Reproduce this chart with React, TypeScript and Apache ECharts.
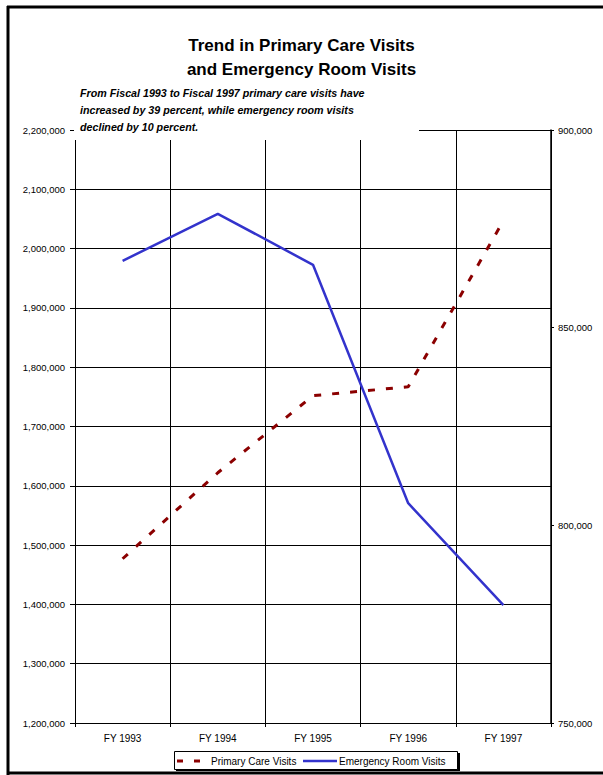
import React, { useEffect, useRef } from "react";
import * as echarts from "echarts";

const categories = ["FY 1993", "FY 1994", "FY 1995", "FY 1996", "FY 1997"];
const primaryCareVisits = [1477000, 1622000, 1752000, 1767000, 2047000];
const emergencyRoomVisits = [866900, 878800, 865900, 805600, 779800];
const seriesNames = ["Primary Care Visits", "Emergency Room Visits"];
const titleLines = ["Trend in Primary Care Visits", "and Emergency Room Visits"];
const noteLines = [
  "From Fiscal 1993 to Fiscal 1997 primary care visits have",
  "increased by 39 percent, while emergency room visits",
  "declined by 10 percent.",
];
const leftAxisRange = [1200000, 2200000, 100000];
const rightAxisRange = [750000, 900000, 50000];

const FONT = "'Liberation Sans', Arial, sans-serif";
const RED = "#8B0000";
const BLUE = "#3333CC";

const fmt = (v: number) => v.toLocaleString("en-US");

export default function App() {
  const ref = useRef<HTMLDivElement>(null);
  useEffect(() => {
    if (!ref.current) return;
    const chart = echarts.init(ref.current, undefined, { renderer: "svg" });
    const option: any = {
      animation: false,
      backgroundColor: "#ffffff",
      textStyle: { fontFamily: FONT },
      title: [
        {
          text: titleLines.join("\n"),
          left: "center",
          top: 33,
          padding: 0,
          textStyle: {
            fontFamily: FONT,
            fontSize: 17,
            fontWeight: "bold",
            color: "#000",
            lineHeight: 24,
          },
        },
        {
          text: noteLines.join("\n"),
          left: 80,
          top: 84.5,
          padding: 0,
          z: 10,
          textStyle: {
            fontFamily: FONT,
            fontSize: 10.7,
            fontWeight: "bold",
            fontStyle: "italic",
            color: "#000",
            lineHeight: 17,
          },
        },
      ],
      grid: { left: 75, right: 52, top: 130, bottom: 52, containLabel: false },
      xAxis: {
        type: "category",
        data: categories,
        boundaryGap: true,
        axisLine: { show: true, lineStyle: { color: "#000", width: 1 } },
        axisTick: { show: true, length: 4, lineStyle: { color: "#000" } },
        axisLabel: { margin: 10, fontSize: 10, color: "#000", fontFamily: FONT },
        splitLine: { show: true, lineStyle: { color: "#000", width: 1 } },
      },
      yAxis: [
        {
          type: "value",
          position: "left",
          min: leftAxisRange[0],
          max: leftAxisRange[1],
          interval: leftAxisRange[2],
          axisLine: { show: true, lineStyle: { color: "#000", width: 1 } },
          axisTick: { show: true, length: 5, lineStyle: { color: "#000" } },
          axisLabel: { formatter: fmt, fontSize: 9.5, color: "#000", margin: 10, fontFamily: FONT },
          splitLine: { show: true, lineStyle: { color: "#000", width: 1 } },
        },
        {
          type: "value",
          position: "right",
          min: rightAxisRange[0],
          max: rightAxisRange[1],
          interval: rightAxisRange[2],
          axisLine: { show: true, lineStyle: { color: "#000", width: 1.5 } },
          axisTick: { show: true, length: 3, lineStyle: { color: "#000" } },
          axisLabel: { formatter: fmt, fontSize: 9.5, color: "#000", margin: 7, fontFamily: FONT },
          splitLine: { show: false },
        },
      ],
      series: [
        {
          name: seriesNames[0],
          type: "line",
          yAxisIndex: 0,
          data: primaryCareVisits,
          symbol: "none",
          z: 3,
          itemStyle: { color: RED },
          lineStyle: { color: RED, width: 3, type: [7, 11], cap: "butt" },
        },
        {
          name: seriesNames[1],
          type: "line",
          yAxisIndex: 1,
          data: emergencyRoomVisits,
          symbol: "none",
          z: 4,
          itemStyle: { color: BLUE },
          lineStyle: { color: BLUE, width: 2.5 },
        },
      ],
      graphic: [
        // white note box covering the top of the plot
        { type: "rect", z: 5, shape: { x: 74, y: 118, width: 345, height: 22 }, style: { fill: "#fff" } },
        // page frame
        { type: "line", z: 20, shape: { x1: 7, y1: 7, x2: 603, y2: 7 }, style: { stroke: "#000", lineWidth: 3 } },
        { type: "line", z: 20, shape: { x1: 8, y1: 6, x2: 8, y2: 775 }, style: { stroke: "#000", lineWidth: 3 } },
        { type: "line", z: 20, shape: { x1: 7, y1: 773, x2: 603, y2: 773 }, style: { stroke: "#000", lineWidth: 3 } },
        // legend box
        { type: "rect", z: 20, shape: { x: 176, y: 753, width: 284, height: 18 }, style: { fill: "#000" } },
        { type: "rect", z: 21, shape: { x: 174.5, y: 751.5, width: 283, height: 18 }, style: { fill: "#fff", stroke: "#000", lineWidth: 1 } },
        { type: "line", z: 22, shape: { x1: 177, y1: 761, x2: 201, y2: 761 }, style: { stroke: RED, lineWidth: 3, lineDash: [6, 11] } },
        {
          type: "text", z: 22, x: 211, y: 761,
          style: { text: seriesNames[0], fontSize: 10, fontFamily: FONT, fill: "#000", verticalAlign: "middle", align: "left" },
        },
        { type: "line", z: 22, shape: { x1: 303, y1: 761, x2: 337, y2: 761 }, style: { stroke: BLUE, lineWidth: 2.5 } },
        {
          type: "text", z: 22, x: 339, y: 761,
          style: { text: seriesNames[1], fontSize: 10, fontFamily: FONT, fill: "#000", verticalAlign: "middle", align: "left" },
        },
      ],
    };
    chart.setOption(option);
    return () => chart.dispose();
  }, []);
  return (
    <div
      ref={ref}
      style={{ position: "absolute", left: 0, top: 0, width: 603, height: 775 }}
    />
  );
}
